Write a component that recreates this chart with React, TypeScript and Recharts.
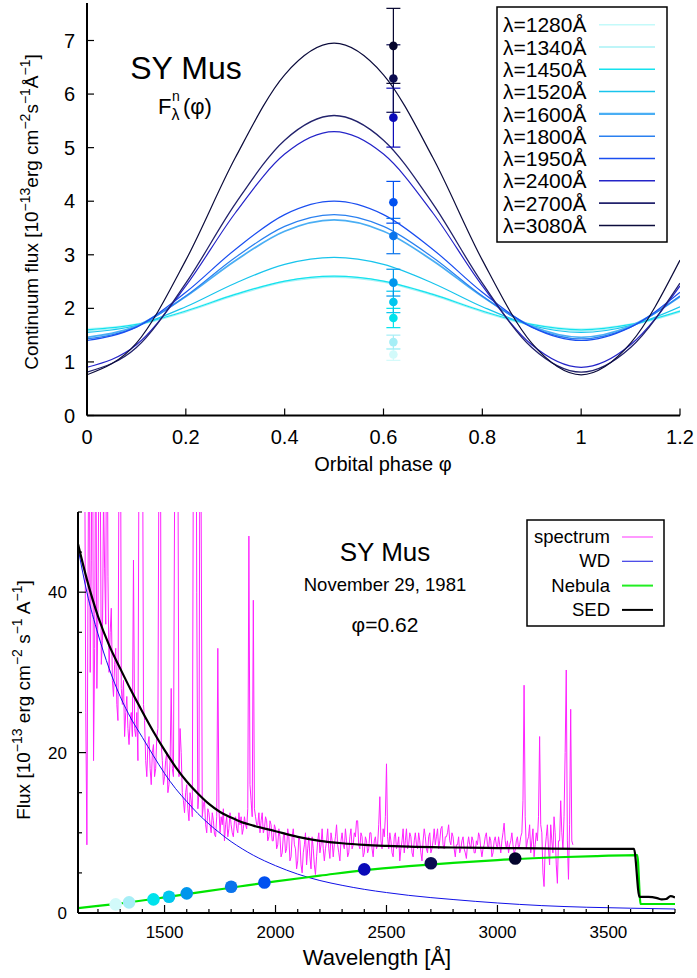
import React from "react";
import { ComposedChart, ErrorBar, Line, Scatter, XAxis, YAxis } from "recharts";

const FONT = "Liberation Sans, Arial, Helvetica, sans-serif";

// ---------- top panel: light curves ----------
const WAVELENGTHS = [1280, 1340, 1450, 1520, 1600, 1800, 1950, 2400, 2700, 3080];
const LINE_COLORS = ["#c4fafa", "#a8f2f6", "#14e2ee", "#18c4ec", "#4aaef4", "#2a80f0", "#1a4ef0", "#2424c8", "#22226c", "#0c0c3c"];
const LINE_WIDTHS = [1.2, 1.2, 1.2, 1.2, 1.8, 1.2, 1.2, 1.2, 1.3, 1.2];
const POINT_COLORS = ["#d2fafa", "#a6eef6", "#00e2ec", "#00c6ee", "#0096ec", "#0a74ec", "#0050f0", "#0a0ab8", "#0c0c50", "#04042c"];

const PHASES = [0, 0.1, 0.2, 0.3, 0.4, 0.5, 0.6, 0.7, 0.8, 0.9, 1, 1.1, 1.2];
const F1280 = [1.62, 1.71, 1.96, 2.27, 2.51, 2.6, 2.51, 2.27, 1.96, 1.71, 1.62, 1.71, 1.96];
const F1340 = [1.58, 1.68, 1.93, 2.24, 2.49, 2.58, 2.49, 2.24, 1.93, 1.68, 1.58, 1.68, 1.93];
const F1450 = [1.6, 1.7, 1.95, 2.26, 2.51, 2.6, 2.51, 2.26, 1.95, 1.7, 1.6, 1.7, 1.95];
const F1520 = [1.55, 1.68, 2.03, 2.47, 2.82, 2.95, 2.82, 2.47, 2.03, 1.68, 1.55, 1.68, 2.03];
const F1600 = [1.46, 1.67, 2.22, 2.89, 3.44, 3.65, 3.44, 2.89, 2.22, 1.67, 1.46, 1.67, 2.22];
const F1800 = [1.43, 1.65, 2.23, 2.95, 3.53, 3.75, 3.53, 2.95, 2.23, 1.65, 1.43, 1.65, 2.23];
const F1950 = [1.4, 1.65, 2.3, 3.1, 3.75, 4.0, 3.75, 3.1, 2.3, 1.65, 1.4, 1.65, 2.3];
const F2400 = [0.9, 1.32, 2.42, 3.78, 4.88, 5.3, 4.88, 3.78, 2.42, 1.32, 0.9, 1.32, 2.42];
const F2700 = [0.81, 1.27, 2.47, 3.95, 5.14, 5.6, 5.14, 3.95, 2.47, 1.27, 0.81, 1.27, 2.47];
const F3080 = [0.76, 1.35, 2.9, 4.81, 6.36, 6.95, 6.36, 4.81, 2.9, 1.35, 0.76, 1.35, 2.9];
const CURVES = [F1280, F1340, F1450, F1520, F1600, F1800, F1950, F2400, F2700, F3080];

const OBS_PHASE = 0.62;
const OBS_FLUX = [1.14, 1.37, 1.82, 2.12, 2.48, 3.35, 3.98, 5.56, 6.29, 6.9];
const OBS_ERR = [0.11, 0.13, 0.18, 0.2, 0.25, 0.33, 0.39, 0.55, 0.63, 0.7];

const PHASE_TICKS = [0, 0.2, 0.4, 0.6, 0.8, 1, 1.2];
const FLUX_TICKS = [0, 1, 2, 3, 4, 5, 6, 7];

// ---------- bottom panel: SED ----------
// IUE spectrum, 5 A sampling from 1140 A
const SPEC_START = 1140;
const SPEC_STEP = 5;
const SPEC_FLUX = [
  60, 25, 8.5, 40, 70, 30, 44, 75, 19, 33, 65, 28, 38, 60, 56, 31, 34, 52, 43, 36,
  75, 42, 30, 35, 38, 29, 27, 31, 33, 26, 24, 60, 80, 28, 26, 29, 22, 25, 27, 23,
  21, 24, 25, 22, 44, 23, 22, 25, 19, 60, 85, 55, 70, 26, 24, 19, 17, 21, 22, 18,
  16, 20, 21, 17, 18, 22, 23, 60, 80, 21, 19, 16, 17, 19, 20, 15, 16, 19, 28, 18,
  17, 50, 95, 70, 60, 17, 23, 20, 15, 14, 12.5, 15, 16, 13, 11.5, 15, 14, 12, 60, 75,
  90, 40, 13, 15, 70, 50, 12, 13.5, 14, 11, 10, 13, 12.5, 11, 10, 12.5, 11.5, 9.8, 9.5, 12,
  33, 13, 10, 12, 11, 13, 9, 11, 12, 9.5, 10.5, 12.5, 11, 10, 9.5, 11.5, 12, 10.5, 10, 12.5,
  11, 12, 9.8, 10.5, 12, 11, 10.5, 13, 47, 16, 14, 12, 39, 13, 12, 11, 11, 12.5, 10, 11.5,
  12.5, 10, 10.5, 12, 11.5, 9, 9.5, 11.5, 11, 9, 9, 11, 10.5, 8, 8.5, 10.5, 9.5, 7, 7.5, 9.5,
  10, 7.5, 8, 10.5, 9.5, 6.5, 7, 9.5, 10.5, 8.5, 8, 5.5, 6.5, 9.5, 9, 6, 5, 7.5, 8.5, 10,
  6, 8, 9.5, 7, 5.5, 9.5, 8, 6, 4.8, 7, 9, 10, 7.5, 8.5, 10.5, 8, 6.5, 8, 9, 10.5,
  8, 6.8, 10, 9, 7, 8.5, 9.5, 11, 8.5, 7.5, 6.5, 9, 10, 8.5, 8, 10.5, 9, 7, 7.5, 9.5,
  10.5, 8, 8.5, 10, 9.5, 11.5, 11.5, 8.5, 8, 10, 9.5, 7, 7.5, 9.5, 9, 7.5, 8, 10, 10, 8,
  7, 9, 9.5, 8, 8.5, 11, 14.5, 9, 8, 10.5, 9.5, 12, 18.6, 9.5, 8, 10, 9, 7.5, 7, 9.5,
  10, 8, 8.5, 9.5, 6.5, 8, 9, 10.5, 7.5, 9, 10.5, 8, 8.5, 10, 9.5, 7.5, 7, 9, 10, 8.5,
  8, 10, 9, 7.5, 6.5, 9, 10.5, 9.5, 8, 7.5, 9.5, 10, 7.5, 8, 9, 10.5, 8.5, 9.5, 10.5, 8,
  9, 10.5, 10.8, 8.5, 8, 9.5, 9.5, 10, 11, 9, 8.5, 10, 9.5, 8, 7, 8.5, 8.5, 9.5, 7.5, 8,
  9, 9.5, 8, 7.5, 6.8, 8.5, 9.5, 8.5, 8, 9.5, 9, 7.5, 7.5, 9, 8.5, 10, 9.5, 8, 7, 8,
  8.5, 9.5, 10, 8.5, 8, 9.5, 9, 7, 7.5, 9, 9.5, 8.5, 8, 9.5, 8.5, 7.5, 9, 10, 11.2, 9,
  8, 9, 7.5, 8.5, 9, 10, 8.5, 7.5, 7.8, 9, 9.5, 8, 8.5, 9.5, 10, 14, 28.4, 12, 8, 9,
  9.5, 11, 7.5, 9, 10.5, 7, 8.5, 10, 9, 12, 22, 11, 10, 5, 3.3, 8, 9.5, 11, 8, 6,
  11, 9, 7.5, 12, 10, 6, 3.7, 9, 9, 14, 10, 8, 12, 20, 30.3, 9, 4.2, 11, 25.4, 9,
  8.5,
];

const WD_WAVE = [1110, 1150, 1200, 1250, 1300, 1350, 1400, 1450, 1500, 1550, 1600, 1650, 1700, 1750, 1800, 1850, 1900, 2000, 2100, 2200, 2300, 2400, 2500, 2600, 2800, 3000, 3200, 3400, 3600, 3800];
const WD_FLUX = [45.5, 40.0, 34.8, 30.5, 27.0, 24.2, 21.9, 19.6, 17.4, 15.5, 13.9, 12.4, 11.1, 9.95, 8.9, 8.0, 7.2, 5.9, 4.85, 4.05, 3.45, 2.95, 2.55, 2.2, 1.68, 1.25, 0.92, 0.72, 0.6, 0.5];

const NEB_WAVE = [1110, 1300, 1500, 1700, 1836, 2000, 2200, 2400, 2600, 2800, 3000, 3271, 3450, 3630, 3645, 3800];
const NEB_FLUX = [0.6, 1.2, 1.95, 2.75, 3.3, 3.95, 4.65, 5.35, 5.85, 6.25, 6.6, 6.95, 7.1, 7.22, 1.12, 1.12];

const SED_WAVE = [1110, 1150, 1200, 1250, 1300, 1350, 1400, 1450, 1500, 1550, 1600, 1650, 1700, 1750, 1800, 1850, 1900, 2000, 2100, 2200, 2300, 2400, 2500, 2600, 2800, 3000, 3200, 3400, 3615, 3640, 3680, 3720, 3740, 3760, 3780, 3800];
const SED_FLUX = [46, 41.6, 37.0, 33.4, 30.5, 27.7, 25.1, 22.6, 20.3, 18.2, 16.4, 14.9, 13.6, 12.6, 11.9, 11.3, 10.9, 10.2, 9.5, 9.0, 8.7, 8.5, 8.37, 8.27, 8.17, 8.1, 8.05, 8.0, 8.0, 2.0, 2.0, 1.85, 1.7, 1.75, 2.1, 1.95];

const SED_POINT_FLUX = [1.08, 1.33, 1.7, 2.03, 2.45, 3.28, 3.8, 5.44, 6.2, 6.8];

const WAVE_TICKS = [1200, 1300, 1400, 1500, 1600, 1700, 1800, 1900, 2000, 2100, 2200, 2300, 2400, 2500, 2600, 2700, 2800, 2900, 3000, 3100, 3200, 3300, 3400, 3500, 3600, 3700, 3800];
const WAVE_MAJOR = [1500, 2000, 2500, 3000, 3500];
const SEDFLUX_TICKS = [0, 5, 10, 15, 20, 25, 30, 35, 40, 45, 50];
const SEDFLUX_MAJOR = [0, 20, 40];

type Side = "bottom" | "top" | "left" | "right";

function makeTick(side: Side, majors: number[], len: number, minorLen: number, fontSize: number, labels: boolean, offX: number, offY: number) {
  return (props: any) => {
    const x = Number(props.x);
    const y = Number(props.y);
    const v = Number(props.payload?.value);
    const isMajor = majors.some((m) => Math.abs(m - v) < 1e-6);
    const l = isMajor ? len : minorLen;
    let x2 = x;
    let y2 = y;
    if (side === "bottom") y2 = y - l;
    if (side === "top") y2 = y + l;
    if (side === "left") x2 = x + l;
    if (side === "right") x2 = x - l;
    let label = null;
    if (labels && isMajor) {
      if (side === "bottom") {
        label = (
          <text x={x} y={y + offY} textAnchor="middle" fontSize={fontSize} fontFamily={FONT} fill="#000">
            {String(v)}
          </text>
        );
      } else if (side === "left") {
        label = (
          <text x={x - offX} y={y + offY} textAnchor="end" fontSize={fontSize} fontFamily={FONT} fill="#000">
            {String(v)}
          </text>
        );
      }
    }
    return (
      <g>
        <line x1={x} y1={y} x2={x2} y2={y2} stroke="#000" strokeWidth={1.2} />
        {label}
      </g>
    );
  };
}

const axisLine = { stroke: "#000", strokeWidth: 2 };

function TopChart() {
  return (
    <ComposedChart width={697} height={480} margin={{ top: 3, right: 17, bottom: 0, left: 0 }}>
      <XAxis dataKey="x" type="number" domain={[0, 1.2]} allowDataOverflow ticks={PHASE_TICKS} interval={0} height={64.5}
        tickSize={0} tickMargin={0} axisLine={axisLine} tickLine={false}
        tick={makeTick("bottom", PHASE_TICKS, 7, 4, 20, true, 0, 28.5)} />
      <XAxis xAxisId="top" orientation="top" dataKey="x" type="number" domain={[0, 1.2]} allowDataOverflow ticks={PHASE_TICKS}
        interval={0} height={0} tickSize={0} tickMargin={0} axisLine={axisLine} tickLine={false}
        tick={makeTick("top", PHASE_TICKS, 7, 4, 20, false, 0, 0)} />
      <YAxis dataKey="y" type="number" domain={[0, 7.7]} allowDataOverflow ticks={FLUX_TICKS} interval={0} width={87}
        tickSize={0} tickMargin={0} axisLine={axisLine} tickLine={false}
        tick={makeTick("left", FLUX_TICKS, 7, 4, 20, true, 12, 7)} />
      <YAxis yAxisId="right" orientation="right" dataKey="y" type="number" domain={[0, 7.7]} allowDataOverflow ticks={FLUX_TICKS}
        interval={0} width={0} tickSize={0} tickMargin={0} axisLine={axisLine} tickLine={false}
        tick={makeTick("right", FLUX_TICKS, 7, 4, 20, false, 0, 0)} />
      {CURVES.map((c, i) => (
        <Line key={`curve-${WAVELENGTHS[i]}`} data={PHASES.map((p, j) => ({ x: p, y: c[j] }))} dataKey="y" type="monotone"
          stroke={LINE_COLORS[i]} strokeWidth={LINE_WIDTHS[i]} dot={false} activeDot={false} isAnimationActive={false} />
      ))}
      {WAVELENGTHS.map((w, i) => (
        <Scatter key={`obs-${w}`} xAxisId="top" yAxisId="right" data={[{ x: OBS_PHASE, y: OBS_FLUX[i], e: OBS_ERR[i] }]}
          isAnimationActive={false}
          shape={(p: any) => <circle cx={p.cx} cy={p.cy} r={4.3} fill={POINT_COLORS[i]} />}>
          <ErrorBar dataKey="e" direction="y" width={7} stroke={POINT_COLORS[i]} strokeWidth={1.2} isAnimationActive={false} />
        </Scatter>
      ))}
    </ComposedChart>
  );
}

function BottomChart() {
  const spectrum = SPEC_FLUX.map((f, i) => ({ x: SPEC_START + i * SPEC_STEP, y: f }));
  return (
    <ComposedChart width={697} height={498} margin={{ top: 32, right: 22, bottom: 0, left: 0 }}>
      <XAxis dataKey="x" type="number" domain={[1110, 3800]} allowDataOverflow ticks={WAVE_TICKS} interval={0} height={65}
        tickSize={0} tickMargin={0} axisLine={axisLine} tickLine={false}
        tick={makeTick("bottom", WAVE_MAJOR, 8, 4, 17, true, 0, 25)} />
      <XAxis xAxisId="top" orientation="top" dataKey="x" type="number" domain={[1110, 3800]} allowDataOverflow ticks={WAVE_TICKS}
        interval={0} height={0} tickSize={0} tickMargin={0} axisLine={axisLine} tickLine={false}
        tick={makeTick("top", WAVE_MAJOR, 8, 4, 17, false, 0, 0)} />
      <YAxis dataKey="y" type="number" domain={[0, 50]} allowDataOverflow ticks={SEDFLUX_TICKS} interval={0} width={78}
        tickSize={0} tickMargin={0} axisLine={axisLine} tickLine={false}
        tick={makeTick("left", SEDFLUX_MAJOR, 8, 4, 17, true, 11, 6)} />
      <YAxis yAxisId="right" orientation="right" dataKey="y" type="number" domain={[0, 50]} allowDataOverflow ticks={SEDFLUX_TICKS}
        interval={0} width={0} tickSize={0} tickMargin={0} axisLine={axisLine} tickLine={false}
        tick={makeTick("right", SEDFLUX_MAJOR, 8, 4, 17, false, 0, 0)} />
      <Line data={spectrum} dataKey="y" type="linear" stroke="#ff22ff" strokeWidth={1} dot={false} activeDot={false} isAnimationActive={false} />
      <Line data={WD_WAVE.map((w, i) => ({ x: w, y: WD_FLUX[i] }))} dataKey="y" type="monotone" stroke="#1010e8" strokeWidth={1}
        dot={false} activeDot={false} isAnimationActive={false} />
      <Line data={NEB_WAVE.map((w, i) => ({ x: w, y: NEB_FLUX[i] }))} dataKey="y" type="monotone" stroke="#00e400" strokeWidth={2.2}
        dot={false} activeDot={false} isAnimationActive={false} />
      <Line data={SED_WAVE.map((w, i) => ({ x: w, y: SED_FLUX[i] }))} dataKey="y" type="monotone" stroke="#000" strokeWidth={2.2}
        dot={false} activeDot={false} isAnimationActive={false} />
      {WAVELENGTHS.map((w, i) => (
        <Scatter key={`sed-${w}`} xAxisId="top" yAxisId="right" data={[{ x: w, y: SED_POINT_FLUX[i] }]} isAnimationActive={false}
          shape={(p: any) => <circle cx={p.cx} cy={p.cy} r={6.3} fill={POINT_COLORS[i]} />} />
      ))}
    </ComposedChart>
  );
}

const SED_LEGEND = [
  { name: "spectrum", color: "#ff77ff", width: 1.5 },
  { name: "WD", color: "#3a3ae6", width: 1.2 },
  { name: "Nebula", color: "#22ee22", width: 2 },
  { name: "SED", color: "#000", width: 2 },
];

function Overlay() {
  return (
    <svg width={697} height={978} style={{ position: "absolute", left: 0, top: 0, pointerEvents: "none" }} fontFamily={FONT}>
      {/* top panel texts */}
      <text x={186} y={79} fontSize={32} textAnchor="middle">SY Mus</text>
      <text x={158} y={114} fontSize={22}>F</text>
      <text x={172} y={101} fontSize={14}>n</text>
      <text x={171.5} y={119.5} fontSize={16}>λ</text>
      <text x={183} y={114} fontSize={22}>(φ)</text>
      <text transform="translate(38,212) rotate(-90)" fontSize={19} textAnchor="middle">
        Continuum flux [10<tspan dy={-8} fontSize={14}>−13</tspan>
        <tspan dy={8}>erg cm</tspan>
        <tspan dy={-8} fontSize={14}>−2</tspan>
        <tspan dy={8}>s</tspan>
        <tspan dy={-8} fontSize={14}>−1</tspan>
        <tspan dy={8}>Å</tspan>
        <tspan dy={-8} fontSize={14}>−1</tspan>
        <tspan dy={8}>]</tspan>
      </text>
      <text x={383} y={471} fontSize={20} textAnchor="middle">Orbital phase φ</text>
      <rect x={497} y={7} width={170} height={235} fill="#fff" stroke="#000" strokeWidth={1.5} />
      {WAVELENGTHS.map((w, i) => (
        <g key={`leg-${w}`}>
          <text x={503} y={32.3 + i * 22.3} fontSize={21}>{`λ=${w}Å`}</text>
          <line x1={599} x2={655} y1={24.7 + i * 22.3} y2={24.7 + i * 22.3} stroke={LINE_COLORS[i]} strokeWidth={LINE_WIDTHS[i] + 0.3} />
        </g>
      ))}

      {/* bottom panel texts */}
      <text x={385} y={561} fontSize={26} textAnchor="middle">SY Mus</text>
      <text x={385} y={591} fontSize={18.5} textAnchor="middle">November 29, 1981</text>
      <text x={385} y={632} fontSize={21} textAnchor="middle">φ=0.62</text>
      <text transform="translate(30,700) rotate(-90)" fontSize={19} textAnchor="middle">
        Flux [10<tspan dy={-8} fontSize={14}>−13</tspan>
        <tspan dy={8}> erg cm</tspan>
        <tspan dy={-8} fontSize={14}>−2</tspan>
        <tspan dy={8}> s</tspan>
        <tspan dy={-8} fontSize={14}>−1</tspan>
        <tspan dy={8}> A</tspan>
        <tspan dy={-8} fontSize={14}>−1</tspan>
        <tspan dy={8}>]</tspan>
      </text>
      <text x={377} y={965} fontSize={22} textAnchor="middle">Wavelength [Å]</text>
      <rect x={527} y={520} width={137} height={106} fill="#fff" stroke="#000" strokeWidth={1.5} />
      {SED_LEGEND.map((e, i) => (
        <g key={`sleg-${e.name}`}>
          <text x={610} y={543 + i * 24.3} fontSize={18.5} textAnchor="end">{e.name}</text>
          <line x1={622} x2={653} y1={537 + i * 24.3} y2={537 + i * 24.3} stroke={e.color} strokeWidth={e.width} />
        </g>
      ))}
    </svg>
  );
}

export default function App() {
  return (
    <div style={{ position: "absolute", left: 0, top: 0, width: 697, height: 978, background: "#fff" }}>
      <div style={{ position: "absolute", left: 0, top: 0 }}>
        <TopChart />
      </div>
      <div style={{ position: "absolute", left: 0, top: 480 }}>
        <BottomChart />
      </div>
      <Overlay />
    </div>
  );
}
